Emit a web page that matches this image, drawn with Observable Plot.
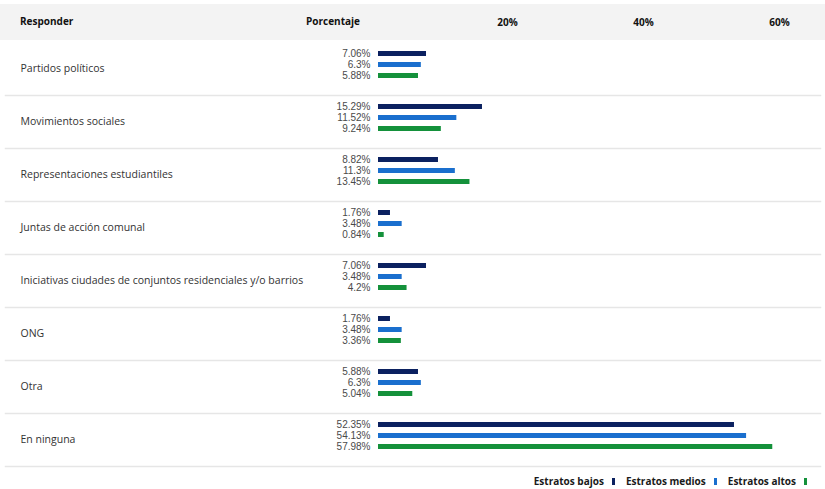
<!DOCTYPE html>
<html>
<head>
<meta charset="utf-8">
<script src="https://cdn.jsdelivr.net/npm/d3@7"></script>
<script src="https://cdn.jsdelivr.net/npm/@observablehq/plot@0.6"></script>
<style>
  body { margin: 0; background: #fff; font-family: "Open Sans", sans-serif; }
  #wrap { position: relative; width: 825px; }
  .hdr { position: absolute; top: 14px; font: 700 10px "Open Sans", sans-serif; color: #111; }
  #legend { width: 825px; display: flex; justify-content: flex-end; align-items: center; margin-top: 4px; font: 700 10px "Open Sans", sans-serif; color: #1a1a1a; }
  #legend .item { display: flex; align-items: center; margin-left: 11px; }
  #legend .sw { display: inline-block; width: 3px; height: 7px; margin-left: 8px; }
  #legend .item:last-child { margin-right: 18px; }
</style>
</head>
<body>
<div id="wrap">
  <div id="chart"></div>
  <div class="hdr" style="left:20px">Responder</div>
  <div class="hdr" style="right:465px">Porcentaje</div>
</div>
<div id="legend"></div>
<script>
const categories = [
  "Partidos políticos",
  "Movimientos sociales",
  "Representaciones estudiantiles",
  "Juntas de acción comunal",
  "Iniciativas ciudades de conjuntos residenciales y/o barrios",
  "ONG",
  "Otra",
  "En ninguna"
];
const series = ["Estratos bajos", "Estratos medios", "Estratos altos"];
const colors = ["#0b2160", "#1a6fce", "#14913b"];
const bajos  = [7.06, 15.29, 8.82, 1.76, 7.06, 1.76, 5.88, 52.35];
const medios = [6.3, 11.52, 11.3, 3.48, 3.48, 3.48, 6.3, 54.13];
const altos  = [5.88, 9.24, 13.45, 0.84, 4.2, 3.36, 5.04, 57.98];
const tickValues = [20, 40, 60];

const seriesValues = [bajos, medios, altos];
const data = categories.flatMap((c, i) =>
  series.map((s, j) => ({category: c, series: s, value: seriesValues[j][i]}))
);

const chart = Plot.plot({
  width: 825,
  height: 470,
  marginTop: 40,
  marginBottom: 3,
  marginLeft: 5,
  marginRight: 5,
  style: {
    fontFamily: "'Open Sans', sans-serif",
    fontSize: "9.5px",
    background: "linear-gradient(to bottom, #fff 0px, #fff 4px, #f3f3f3 4px, #f3f3f3 40px, #fff 40px)"
  },
  x: {domain: [0, 65], range: [378, 820], label: null},
  fy: {domain: categories, padding: 0, axis: null, label: null},
  y: {domain: series, paddingInner: 0.565, paddingOuter: 1.103, align: 0.36, axis: null, label: null},
  color: {domain: series, range: colors},
  marks: [
    Plot.frame({anchor: "bottom", stroke: "#e6e6e6", strokeWidth: 1.5}),
    Plot.axisX({anchor: "top", ticks: tickValues, tickFormat: d => d + "%", tickSize: 0, tickPadding: 17, dx: -7, fontWeight: 700, fontSize: 10, fill: "#111", label: null}),
    Plot.barX(data, {x: "value", y: "series", fy: "category", fill: "series"}),
    Plot.text(data, {x: 0, y: "series", fy: "category", text: d => d.value + "%", textAnchor: "end", dx: -8, fill: "#4a4a4a", fontFamily: "'Liberation Sans', sans-serif", fontSize: 10}),
    Plot.text(categories, {fy: d => d, frameAnchor: "left", dx: 15, text: d => d, fill: "#333", fontSize: 10.5})
  ]
});
document.getElementById("chart").appendChild(chart);

const legend = document.getElementById("legend");
series.forEach((s, i) => {
  const item = document.createElement("span");
  item.className = "item";
  item.textContent = s;
  const sw = document.createElement("span");
  sw.className = "sw";
  sw.style.background = colors[i];
  item.appendChild(sw);
  legend.appendChild(item);
});
</script>
</body>
</html>
